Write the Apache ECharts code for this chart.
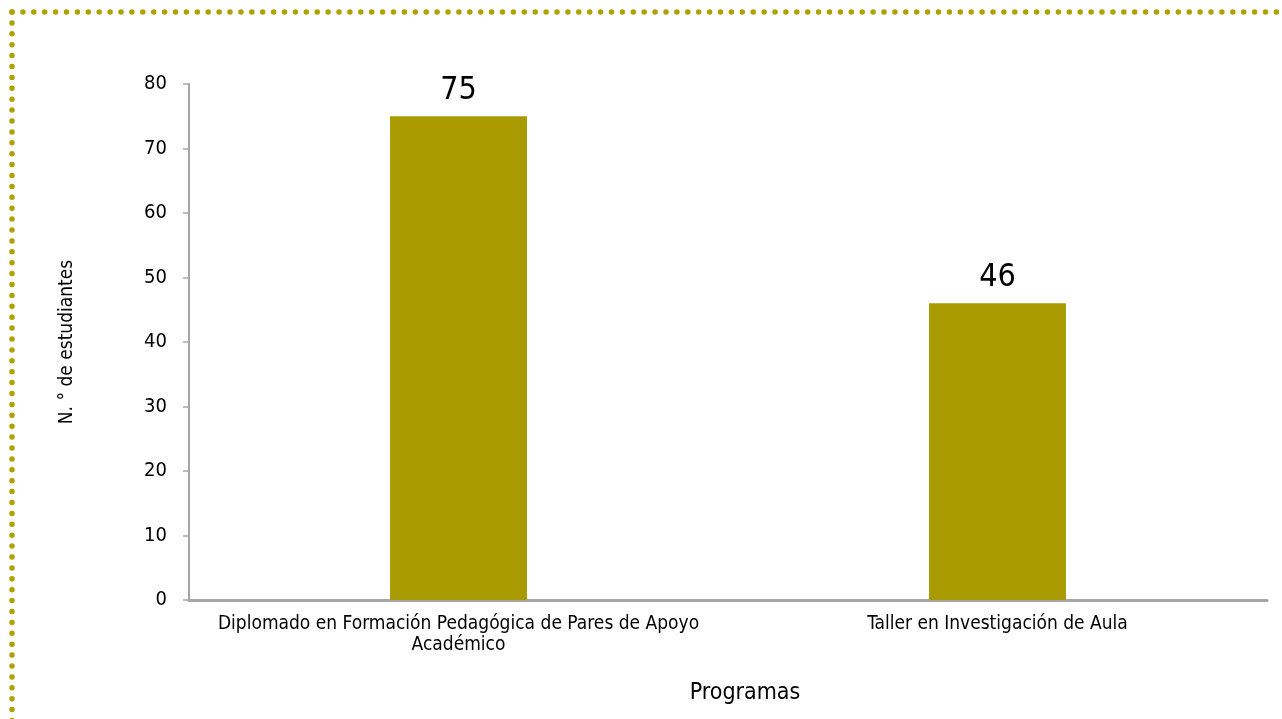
<!DOCTYPE html>
<html>
<head>
<meta charset="utf-8">
<script src="https://cdn.jsdelivr.net/npm/echarts@6/dist/echarts.min.js"></script>
<style>
  html, body { margin: 0; padding: 0; background: #fff; }
  #chart { width: 1282px; height: 719px; }
</style>
</head>
<body>
<div id="chart"></div>
<script>
const programas = [
  "Diplomado en Formación Pedagógica de Pares de Apoyo\nAcadémico",
  "Taller en Investigación de Aula"
];
const estudiantes = [75, 46];

const FONT = "'Liberation Sans Narrow', 'DejaVu Sans Condensed', sans-serif";
const OLIVE = "#a89a00";
const DOT = "#b0a000";

const chart = echarts.init(document.getElementById("chart"));

chart.setOption({
  animation: false,
  textStyle: { fontFamily: FONT, color: "#000" },
  grid: { left: 189, right: 15, top: 84, bottom: 119, containLabel: false },
  graphic: [
    {
      type: "line",
      shape: { x1: 12, y1: 12, x2: 1290, y2: 12 },
      style: { stroke: DOT, lineWidth: 5.5, lineDash: [0, 10.9], lineCap: "round" },
      silent: true
    },
    {
      type: "line",
      shape: { x1: 12, y1: 12, x2: 12, y2: 730 },
      style: { stroke: DOT, lineWidth: 5.5, lineDash: [0, 10.9], lineCap: "round" },
      silent: true
    }
  ],
  xAxis: {
    type: "category",
    data: programas,
    name: "Programas",
    nameLocation: "middle",
    nameGap: 82,
    nameTextStyle: { fontSize: 23, color: "#000", fontFamily: FONT, padding: [0, 0, 0, 34] },
    axisLine: { lineStyle: { color: "#a6a6a6", width: 3 } },
    axisTick: { show: false },
    axisLabel: {
      color: "#000",
      fontSize: 19,
      fontFamily: FONT,
      margin: 14,
      lineHeight: 21,
      interval: 0
    }
  },
  yAxis: {
    type: "value",
    min: 0,
    max: 80,
    interval: 10,
    name: "N. ° de estudiantes",
    nameLocation: "middle",
    nameGap: 112,
    nameRotate: 90,
    nameTextStyle: { fontSize: 19, color: "#000", fontFamily: FONT },
    axisLine: { show: true, lineStyle: { color: "#a6a6a6", width: 2 } },
    axisTick: { show: true, length: 6, lineStyle: { color: "#a6a6a6", width: 1.5 } },
    splitLine: { show: false },
    axisLabel: { color: "#000", fontSize: 20, fontFamily: FONT, margin: 22 }
  },
  series: [
    {
      type: "bar",
      data: estudiantes,
      barWidth: "25.4%",
      itemStyle: { color: OLIVE },
      label: {
        show: true,
        position: "top",
        distance: 10,
        color: "#000",
        fontSize: 32,
        fontFamily: FONT
      }
    }
  ]
});
</script>
</body>
</html>
